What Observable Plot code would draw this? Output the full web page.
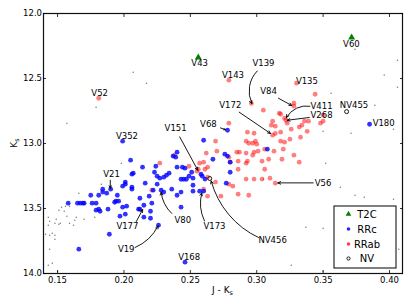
<!DOCTYPE html>
<html><head><meta charset="utf-8">
<script src="https://cdn.jsdelivr.net/npm/d3@7"></script>
<script src="https://cdn.jsdelivr.net/npm/@observablehq/plot@0.6"></script>
<style>body{margin:0;background:#fff}svg{display:block}</style>
</head><body><div id="chart"></div>
<script>
// ---- data (J-Ks, Ks) ----
const rrcJK = [0.158,0.165,0.167,0.169,0.170,0.175,0.176,0.179,0.179,0.181,0.182,0.188,0.181,0.184,0.184,0.187,0.190,0.195,0.194,0.193,0.196,0.199,0.201,0.206,0.206,0.205,0.199,0.202,0.197,0.201,0.211,0.189,0.166,0.199,0.260,0.201,0.214,0.224,0.223,0.240,0.237,0.240,0.244,0.246,0.232,0.234,0.230,0.225,0.227,0.243,0.245,0.247,0.251,0.252,0.259,0.216,0.225,0.228,0.236,0.222,0.219,0.212,0.206,0.252,0.243,0.257,0.260,0.215,0.226,0.246,0.278,0.385,0.267,0.276,0.278,0.308,0.258,0.261,0.280,0.277,0.221,0.220,0.212,0.215,0.220,0.243,0.240,0.230,0.249,0.252,0.239,0.207,0.280];
const rrcK  = [13.459,13.459,13.459,13.459,13.459,13.398,13.459,13.459,13.513,13.505,13.521,13.505,13.398,13.351,13.374,13.382,13.351,13.398,13.444,13.452,13.444,13.328,13.313,13.336,13.236,13.128,13.490,13.482,13.559,13.544,13.505,13.698,13.813,12.982,12.975,13.297,13.182,13.175,13.221,13.067,13.097,13.182,13.182,13.190,13.244,13.228,13.259,13.251,13.267,13.275,13.275,13.275,13.221,13.267,13.251,13.305,13.313,13.359,13.351,13.359,13.405,13.421,13.351,13.367,13.374,13.367,13.367,13.475,13.628,13.913,12.898,12.852,13.121,13.082,13.097,13.044,13.236,13.274,13.221,13.305,13.459,13.521,13.505,13.567,13.575,13.490,13.398,13.374,13.251,13.321,13.105,13.228,13.144];

const rrabJK = [0.181,0.279,0.296,0.330,0.344,0.305,0.317,0.318,0.328,0.328,0.321,0.322,0.323,0.312,0.311,0.314,0.279,0.293,0.298,0.312,0.314,0.318,0.326,0.332,0.334,0.336,0.339,0.348,0.350,0.350,0.338,0.333,0.325,0.318,0.321,0.320,0.306,0.269,0.292,0.294,0.297,0.299,0.262,0.270,0.285,0.287,0.292,0.298,0.301,0.313,0.319,0.328,0.297,0.293,0.286,0.304,0.309,0.260,0.263,0.286,0.292,0.332,0.306,0.269,0.279,0.282,0.292,0.298,0.304,0.310,0.314,0.260,0.263,0.273,0.286,0.294,0.227,0.238,0.257,0.255,0.261,0.221,0.249,0.256,0.263,0.279,0.280,0.300];
const rrabK  = [12.652,12.513,12.692,12.536,12.621,12.744,12.767,12.775,12.690,12.713,12.805,12.821,12.844,12.828,12.859,12.867,12.844,12.913,12.921,12.936,12.923,12.913,12.890,12.874,12.859,12.828,12.828,12.844,12.828,12.782,12.906,12.952,12.967,12.982,12.990,13.044,13.044,12.982,12.982,12.998,12.998,12.982,13.074,13.059,13.067,13.067,13.074,13.067,13.059,13.059,13.121,13.090,13.090,13.136,13.136,13.136,13.121,13.144,13.182,13.198,13.151,13.144,13.198,13.297,13.313,13.328,13.274,13.274,13.274,13.267,13.305,13.351,13.405,13.405,13.390,13.398,13.151,13.090,13.151,13.213,13.198,13.359,13.175,13.198,13.259,13.105,13.144,13.005];

const t2cJK = [0.256, 0.3715];
const t2cK  = [12.338, 12.185];

const nvJK = [0.3677, 0.2646];
const nvK  = [12.755, 13.269];

const fieldJK = [0.207,0.179,0.157,0.217,0.374,0.406,0.396,0.406,0.356,0.389,0.350,0.371,0.403,0.352,0.363,0.374,0.381,0.403,0.337,0.350,0.407,0.326,0.350,0.305,0.198,0.183,0.166,0.159,0.156,0.153,0.151,0.155,0.143,0.149,0.157,0.164,0.178,0.163,0.144,0.148,0.151,0.152,0.170,0.162,0.159,0.143,0.141,0.144,0.146,0.148,0.148,0.144,0.146,0.143,0.150];
const fieldK  = [12.451,12.721,12.844,12.536,12.275,12.359,12.474,12.567,12.613,12.705,12.905,12.921,12.890,13.151,13.336,13.398,13.413,13.428,13.644,13.651,13.813,13.936,13.982,13.274,13.151,13.313,13.382,13.482,13.482,13.490,13.513,13.521,13.567,13.582,13.559,13.567,13.567,13.590,13.598,13.613,13.621,13.613,13.582,13.628,13.613,13.628,13.698,13.705,13.690,13.705,13.736,13.813,13.921,13.936,13.982];

// star labels
const labelText = ["V139","V84","V411","V268","V172","V68","V151","V56","NV456","V173","V80","V177","V19","V21","V60","V43","V52","V352","V143","V135","NV455","V180","V168"];
const labelJK   = [0.3051,0.3089,0.3488,0.3488,0.2801,0.2636,0.2389,0.3500,0.3120,0.2682,0.2443,0.2026,0.2017,0.1907,0.3713,0.2570,0.1817,0.2023,0.2821,0.3378,0.3733,0.3956,0.2491];
const labelK    = [12.382,12.595,12.715,12.782,12.705,12.852,12.884,13.303,13.744,13.636,13.590,13.636,13.811,13.236,12.236,12.380,12.611,12.944,12.475,12.518,12.708,12.842,13.872];

// annotation arrows: from label to star
const arrowName = ["V139","V84","V411","V268","V172","V68","V151","V56","NV456","V173","V80","V177","V19","V21"];
const arrowJK1  = [0.3004,0.3164,0.3400,0.3396,0.2868,0.2727,0.2420,0.3426,0.3013,0.2606,0.2360,0.2093,0.2084,0.1897];
const arrowK1   = [12.442,12.652,12.713,12.800,12.759,12.880,12.949,13.303,13.723,13.595,13.538,13.600,13.800,13.282];
const arrowJK2  = [0.2963,0.3264,0.3224,0.3230,0.3104,0.2764,0.2556,0.3159,0.2657,0.2586,0.2280,0.2141,0.2257,0.1897];
const arrowK2   = [12.692,12.708,12.800,12.821,12.923,12.894,13.205,13.303,13.288,13.380,13.375,13.508,13.634,13.344];
const arrowBend = [-35,0,-35,0,0,0,0,0,25,20,20,0,-20,0];

const xTicks = [0.15,0.20,0.25,0.30,0.35,0.40];
const yTicks = [12.0,12.5,13.0,13.5,14.0];
const legendLabels = ["T2C","RRc","RRab","NV"];

// ---- build tables ----
const zip = (a,b) => a.map((x,i)=>({x, y:b[i]}));
const rrc = zip(rrcJK, rrcK), rrab = zip(rrabJK, rrabK), t2c = zip(t2cJK, t2cK), nv = zip(nvJK, nvK), field = zip(fieldJK, fieldK);
const labels = labelText.map((t,i)=>({t, x:labelJK[i], y:labelK[i]}));
const arrows = arrowName.map((n,i)=>({n, x1:arrowJK1[i], y1:arrowK1[i], x2:arrowJK2[i], y2:arrowK2[i], bend:arrowBend[i]}));
const bends = [...new Set(arrowBend)];

const FONT = "DejaVu Sans";
const plot = Plot.plot({
  width: 411, height: 308,
  marginLeft: 43, marginRight: 9, marginTop: 13, marginBottom: 35,
  style: {fontFamily: FONT, fontSize: "8.5px", background: "white", color: "black", overflow: "visible"},
  x: {domain: [0.1394, 0.4098], label: null},
  y: {domain: [12, 14], reverse: true, label: null},
  marks: [
    Plot.dot(field, {x:"x", y:"y", r:0.75, fill:"#7a7a7a", stroke:null}),
    Plot.dot(rrab, {x:"x", y:"y", r:2.4, fill:"#ff0000", fillOpacity:0.5, stroke:null}),
    Plot.dot(rrc, {x:"x", y:"y", r:2.4, fill:"#0000ff", fillOpacity:0.8, stroke:null}),
    Plot.dot(t2c, {x:"x", y:"y", symbol:"triangle", r:2.6, fill:"#008000", stroke:null}),
    Plot.dot(nv, {x:"x", y:"y", r:2, fill:"none", stroke:"black", strokeWidth:0.9}),
    ...bends.map(b => Plot.arrow(arrows.filter(d=>d.bend===b), {x1:"x1", y1:"y1", x2:"x2", y2:"y2", bend:b, stroke:"black", strokeWidth:0.9, headLength:5, headAngle:50})),
    Plot.text(labels, {x:"x", y:"y", text:"t", fontSize:8.5, fill:"black"}),
    Plot.frame({stroke:"#111", strokeWidth:1.2}),
    Plot.axisX(xTicks, {anchor:"bottom", tickSize:0, tickPadding:3.5, tickFormat:d3.format(".2f"), fontSize:8.5}),
    Plot.axisX(xTicks, {anchor:"bottom", tickSize:-3, tickFormat:()=>"", strokeWidth:0.8}),
    Plot.axisX(xTicks, {anchor:"top", tickSize:-3, tickFormat:()=>"", strokeWidth:0.8}),
    Plot.axisY(yTicks, {anchor:"left", tickSize:0, tickPadding:1.5, tickFormat:d3.format(".1f"), fontSize:8.5}),
    Plot.axisY(yTicks, {anchor:"left", tickSize:-3, tickFormat:()=>"", strokeWidth:0.8}),
    Plot.axisY(yTicks, {anchor:"right", tickSize:-3, tickFormat:()=>"", strokeWidth:0.8})
  ]
});
document.getElementById("chart").appendChild(plot);

// ---- axis titles & legend ----
const svg = d3.select(plot);
const xl = svg.append("text").attr("x", 222.5).attr("y", 293).attr("text-anchor","middle")
  .attr("font-family", FONT).attr("font-size", 9).attr("fill","black");
xl.append("tspan").text("J - K");
xl.append("tspan").attr("font-size", 6.5).attr("dy", 2).text("s");
const yl = svg.append("text").attr("transform","translate(17,143) rotate(-90)").attr("text-anchor","middle")
  .attr("font-family", FONT).attr("font-size", 9).attr("fill","black");
yl.append("tspan").text("K");
yl.append("tspan").attr("font-size", 6.5).attr("dy", 2).text("s");

const lg = svg.append("g").attr("font-family", FONT).attr("font-size", 10);
lg.append("rect").attr("x",334).attr("y",206).attr("width",62).attr("height",62).attr("fill","white").attr("stroke","black").attr("stroke-width",1);
const ly = [214, 229, 244, 258.5];
legendLabels.forEach((t,i)=>{
  const g = lg.append("g").attr("transform", `translate(348.5,${ly[i]})`);
  if (t === "T2C") g.append("path").attr("d", d3.symbol(d3.symbolTriangle, 14)()).attr("fill","#008000");
  else if (t === "RRc") g.append("circle").attr("r",1.8).attr("fill","#0000ff").attr("fill-opacity",0.85);
  else if (t === "RRab") g.append("circle").attr("r",1.8).attr("fill","#ff0000").attr("fill-opacity",0.75);
  else g.append("circle").attr("r",1.6).attr("fill","none").attr("stroke","black").attr("stroke-width",0.9);
  lg.append("text").attr("x",367).attr("y",ly[i]).attr("dy","0.35em").attr("fill","black").text(t);
});
</script>
</body></html>
